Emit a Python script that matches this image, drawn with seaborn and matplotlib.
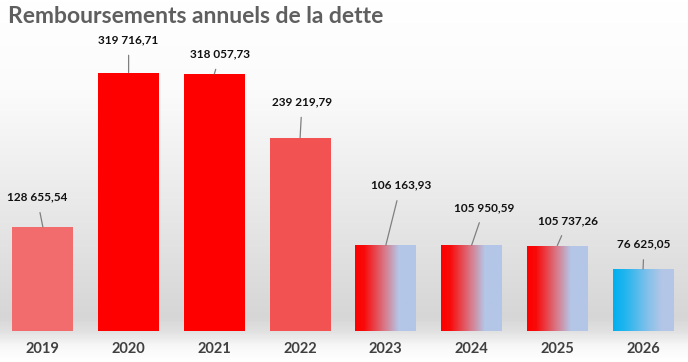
import numpy as np
import seaborn as sns
import matplotlib.pyplot as plt
from matplotlib.colors import LinearSegmentedColormap

# Data
years = ['2019', '2020', '2021', '2022', '2023', '2024', '2025', '2026']
values = [128655.54, 319716.71, 318057.73, 239219.79, 106163.93, 105950.59, 105737.26, 76625.05]
bar_colors = ['#f26b6d', '#ff0000', '#ff0000', '#f25252', '#ff0000', '#ff0000', '#ff0000', '#00b0f0']
gradient = ['', '', '', '', 'red', 'red', 'red', 'blue']
# label offsets (pixels) relative to bar top
label_dx = [-6, 0, 6, 2, 15, 13, 11, 1]
label_dy = [30, 33, 20, 36, 60, 38, 25, 25]

sns.set_style('white')
plt.rcParams['font.family'] = ['Lato', 'DejaVu Sans']

fig = plt.figure(figsize=(6.88, 3.62), dpi=100)

# background: white top, light grey band behind the bars, white at the bottom
bg = fig.add_axes([0, 0, 1, 1], zorder=-10)
bg_cmap = LinearSegmentedColormap.from_list('bg', [
    (0.0, '#ffffff'), (0.25, '#fbfbfb'), (0.55, '#eaeaea'), (0.88, '#d6d6d6'),
    (0.92, '#e2e2e2'), (0.96, '#f8f8f8'), (1.0, '#ffffff')])
bg.imshow(np.linspace(0, 1, 300).reshape(-1, 1), aspect='auto', cmap=bg_cmap,
          extent=[0, 1, 0, 1], origin='upper')
bg.set_axis_off()

ax = fig.add_axes([0.0, 0.0856, 0.997, 0.8375])
ax.patch.set_alpha(0)
sns.barplot(x=years, y=values, hue=years, palette=bar_colors, width=0.71,
            legend=False, saturation=1, ax=ax)

cmaps = {
    'red': LinearSegmentedColormap.from_list('rg', [
        (0.0, '#ff0000'), (0.15, '#f80a0a'), (0.5, '#d77d8e'), (0.72, '#b4c6e7'), (1.0, '#b4c6e7')]),
    'blue': LinearSegmentedColormap.from_list('bgr', [
        (0.0, '#00b0f0'), (0.2, '#22b5ee'), (0.55, '#7ec0ea'), (0.8, '#b4c6e7'), (1.0, '#b4c6e7')]),
}
grad = np.linspace(0, 1, 256).reshape(1, -1)
for p, g in zip(ax.patches, gradient):
    p.set_edgecolor('none')
    if g:
        x0, w, h = p.get_x(), p.get_width(), p.get_height()
        im = ax.imshow(grad, aspect='auto', cmap=cmaps[g], extent=[x0, x0 + w, 0, h],
                       zorder=p.get_zorder() + 0.1)
        im.set_clip_path(p)

ax.set_xlim(-0.5, 7.5)
ax.set_ylim(0, 375000)

for i, (v, dx, dy) in enumerate(zip(values, label_dx, label_dy)):
    txt = f'{v:,.2f}'.replace(',', ' ').replace('.', ',')
    ax.annotate(txt, xy=(i, v), xytext=(dx, dy), textcoords='offset pixels',
                ha='center', va='center', fontsize=8.5, fontweight='bold', color='#111111',
                arrowprops=dict(arrowstyle='-', color='#7f7f7f', lw=0.9, shrinkA=5, shrinkB=0))

ax.set_yticks([])
ax.tick_params(axis='x', length=0, pad=8, labelsize=10.5, labelcolor='#404040')
for lbl in ax.get_xticklabels():
    lbl.set_fontweight('bold')
ax.set_xlabel('')
sns.despine(ax=ax, left=True, bottom=True, top=True, right=True)

fig.text(0.012, 0.955, 'Remboursements annuels de la dette', fontsize=16.5, fontweight='bold',
         color='#5f5f5f', ha='left', va='center')

fig.savefig('out.png', dpi=100)
